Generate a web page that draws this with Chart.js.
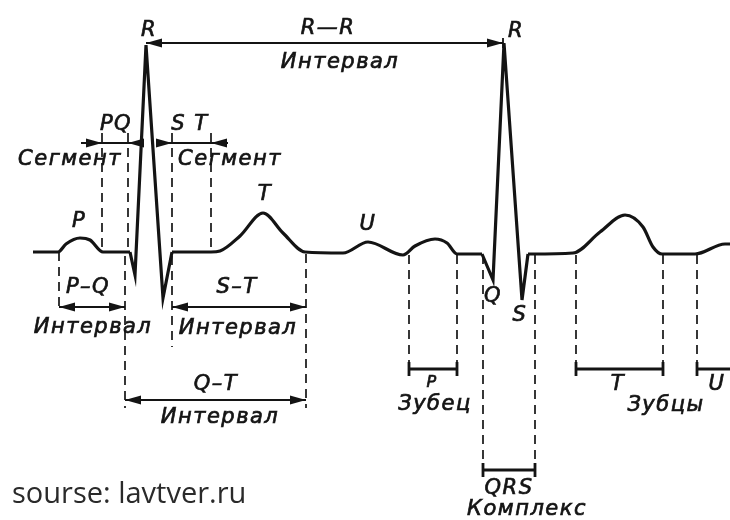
<!DOCTYPE html>
<html>
<head>
<meta charset="utf-8">
<script src="https://cdn.jsdelivr.net/npm/chart.js@4/dist/chart.umd.min.js"></script>
<style>
  body { margin: 0; background: #fff; }
  #ecg { display: block; }
</style>
</head>
<body>
<canvas id="ecg" width="730" height="520"></canvas>
<script>
// ECG trace: time (arbitrary units) and amplitude
// smooth parts (P, T, U waves and baseline), null = QRS gap
const waveTime = [33, 58, 66, 80, 90, 103, 130, null, 172, 211, 220, 240, 263, 283, 305, 343, 368, 403, 415, 435, 447, 457, 482, null, 528, 573, 600, 625, 643, 653, 662, 695, 725, 735];
const waveAmp  = [0, 0, 8, 14, 12, 0, 0, null, 0, 0, 1, 16, 39, 19, 0, -1, 10, -3, 6, 13, 9, -2, -2, null, -2, -1, 20, 37, 25, 5, -2, -2, 8, 8];
// QRS complexes (straight strokes)
const qrsTime = [130, 135, 146, 163, 172, null, 482, 493, 504, 522, 528];
const qrsAmp  = [0, -23, 207, -46, 0, null, -2, -28, 209, -48, -2];

// annotation names
const waveNames = ['P', 'T', 'U', 'Q', 'S'];
const peakNames = ['R', 'R'];
const intervalNames = ['R—R', 'P–Q', 'S–T', 'Q–T'];
const segmentNames = ['PQ', 'S T'];
const toothNames = ['P', 'T', 'U', 'QRS'];

function toPoints(ts, as) {
  return ts.map((t, i) => ({ x: t === null ? (ts[i - 1] + 1) : t, y: as[i] }));
}

// annotation geometry in chart units (t, amplitude)
const dashLines = [
  [59, 0, -60], [102, 119, 2], [128, 119, 2], [125, -4, -156],
  [172, 119, 2], [172, -4, -95], [211, 119, 2], [306, -2, -156],
  [409, -3, -124], [457, -3, -124], [483, -3, -222], [535, -3, -222],
  [576, -3, -124], [663, -3, -124], [697, -3, -124]
];
const dimArrows = [[146, 503, 209], [59, 125, -55], [172, 306, -55], [125, 306, -148]];
const segArrows = [[102, 128, 109, 81, 143], [172, 211, 109, 157, 228]];
const bars = [[409, 457, -117], [576, 663, -117], [697, 745, -117], [483, 535, -218]];
const labels = [
  [peakNames[0], 149, 221], [intervalNames[0], 328, 223], ['Интервал', 340, 189], [peakNames[1], 516, 220],
  [segmentNames[0], 116, 127], [segmentNames[1], 190, 127], ['Сегмент', 70, 92], ['Сегмент', 230, 92],
  [waveNames[0], 79, 30], [waveNames[1], 265, 57], [waveNames[2], 368, 27],
  [waveNames[3], 493, -45], [waveNames[4], 520, -64],
  [intervalNames[1], 88, -36], ['Интервал', 93, -76],
  [intervalNames[2], 237, -36], ['Интервал', 238, -77],
  [intervalNames[3], 216, -133], ['Интервал', 220, -166],
  [toothNames[0], 432, -131, 16], ['Зубец', 435, -153],
  [toothNames[1], 618, -133], ['Зубцы', 666, -154], [toothNames[2], 717, -133],
  [toothNames[3], 509, -237], ['Комплекс', 527, -258]
];

const INK = '#141414';

function arrowHead(ctx, x, y, dir) {
  ctx.beginPath();
  ctx.moveTo(x, y);
  ctx.lineTo(x - dir * 16, y - 4.5);
  ctx.lineTo(x - dir * 16, y + 4.5);
  ctx.closePath();
  ctx.fill();
}

const annotate = {
  id: 'annotate',
  afterDatasetsDraw(chart) {
    const ctx = chart.ctx;
    const X = v => chart.scales.x.getPixelForValue(v);
    const Y = v => chart.scales.y.getPixelForValue(v);
    ctx.save();
    ctx.strokeStyle = INK;
    ctx.fillStyle = INK;

    // dashed guides
    ctx.lineWidth = 1.7;
    ctx.setLineDash([9, 6]);
    dashLines.forEach(([t, a1, a2]) => {
      ctx.beginPath();
      ctx.moveTo(X(t), Y(a1));
      ctx.lineTo(X(t), Y(a2));
      ctx.stroke();
    });
    ctx.setLineDash([]);

    // double arrows
    ctx.lineWidth = 1.8;
    dimArrows.forEach(([t1, t2, a]) => {
      const y = Y(a);
      ctx.beginPath();
      ctx.moveTo(X(t1), y);
      ctx.lineTo(X(t2), y);
      ctx.stroke();
      arrowHead(ctx, X(t1), y, -1);
      arrowHead(ctx, X(t2), y, 1);
    });
    // tick at the right R
    ctx.beginPath();
    ctx.moveTo(X(503), Y(214));
    ctx.lineTo(X(503), Y(204));
    ctx.stroke();

    // segment arrows (pointing inward)
    segArrows.forEach(([t1, t2, a, e1, e2]) => {
      const y = Y(a);
      ctx.beginPath();
      ctx.moveTo(X(e1), y);
      ctx.lineTo(X(e2), y);
      ctx.stroke();
      arrowHead(ctx, X(t1), y, 1);
      arrowHead(ctx, X(t2), y, -1);
    });

    // bars with end ticks
    ctx.lineWidth = 2.8;
    bars.forEach(([t1, t2, a]) => {
      const y = Y(a);
      ctx.beginPath();
      ctx.moveTo(X(t1), y);
      ctx.lineTo(X(t2), y);
      ctx.moveTo(X(t1), y - 7);
      ctx.lineTo(X(t1), y + 7);
      ctx.moveTo(X(t2), y - 7);
      ctx.lineTo(X(t2), y + 7);
      ctx.stroke();
    });

    // labels
    ctx.textAlign = 'center';
    ctx.textBaseline = 'middle';
    ctx.lineWidth = 0.7;
    labels.forEach(([txt, t, a, size]) => {
      ctx.font = 'italic ' + (size || 21) + 'px "DejaVu Sans"';
      ctx.letterSpacing = '1.5px';
      ctx.fillText(txt, X(t), Y(a));
      ctx.strokeText(txt, X(t), Y(a));
    });

    ctx.letterSpacing = '0px';
    ctx.textAlign = 'left';
    ctx.fillStyle = '#2a2a2a';
    ctx.font = '29px "Open Sans"';
    ctx.fillText('sourse: lavtver.ru', X(12), Y(-243));
    ctx.restore();
  }
};

new Chart(document.getElementById('ecg'), {
  type: 'line',
  data: {
    datasets: [
      {
        label: 'waves',
        data: toPoints(waveTime, waveAmp),
        borderColor: INK,
        borderWidth: 3.2,
        pointRadius: 0,
        cubicInterpolationMode: 'monotone',
        spanGaps: false
      },
      {
        label: 'QRS',
        data: toPoints(qrsTime, qrsAmp),
        borderColor: INK,
        borderWidth: 3.2,
        pointRadius: 0,
        tension: 0,
        borderJoinStyle: 'miter',
        spanGaps: false
      }
    ]
  },
  options: {
    responsive: false,
    animation: false,
    layout: { padding: 0 },
    plugins: { legend: { display: false }, tooltip: { enabled: false } },
    scales: {
      x: { type: 'linear', min: 0, max: 730, display: false },
      y: { min: -268, max: 252, display: false }
    }
  },
  plugins: [annotate]
});
</script>
</body>
</html>
